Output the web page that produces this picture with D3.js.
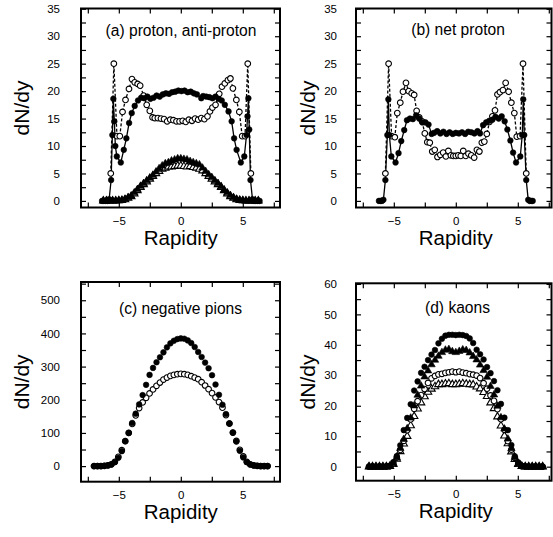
<!DOCTYPE html>
<html><head><meta charset="utf-8">
<script src="https://cdn.jsdelivr.net/npm/d3@7"></script>
<style>
body{margin:0;background:#fff}
svg{display:block}
text{font-family:"Liberation Sans",Arial,Helvetica,sans-serif;fill:#000}
</style>
</head><body>
<svg id="chart" width="553" height="537"></svg>
<script>
// ---------------- DATA ----------------
// (a) proton / anti-proton  : [rapidity, dN/dy]
const aProtonFilled = [[-6.35,0],[-6.2,0],[-6.05,0],[-5.9,0],[-5.78,0.3],[-5.62,3.8],[-5.52,12],[-5.44,18.6],[-5.36,14.5],[-5.28,10],[-5.16,8.1],[-4.84,7.0],[-4.6,9.3],[-4.39,11.4],[-4.17,14.2],[-3.96,16.0],[-3.72,17.3],[-3.45,18.3],[-3.2,18.8],[-2.95,18.7],[-2.7,19.0],[-2.45,18.6],[-2.2,18.8],[-1.95,19.2],[-1.7,19.0],[-1.45,19.4],[-1.2,19.6],[-0.95,19.5],[-0.7,19.8],[-0.45,19.9],[-0.2,20.1],[0.05,20.0],[0.3,20.1],[0.55,19.8],[0.8,19.9],[1.05,19.6],[1.3,19.4],[1.65,18.7],[1.8,19.1],[2.05,19.0],[2.3,18.9],[2.55,18.7],[2.8,19.0],[3.05,18.6],[3.3,18.3],[3.55,17.5],[3.85,16.3],[4.1,14.5],[4.3,11.4],[4.5,9.3],[4.84,7.0],[5.12,8.1],[5.3,12],[5.38,15.4],[5.45,18.7],[5.52,13],[5.62,3.8],[5.78,0.3],[5.9,0],[6.05,0],[6.2,0],[6.35,0]];
const aProtonOpen = [[-5.65,5],[-5.4,25],[-5.15,11.8],[-4.92,11.8],[-4.7,16.2],[-4.46,18.4],[-4.18,20.4],[-3.94,22.2],[-3.72,21.6],[-3.48,21.3],[-3.28,21.0],[-3.0,19.2],[-2.75,17.5],[-2.5,16.4],[-2.28,15.2],[-2.1,15.1],[-1.85,15.1],[-1.6,15.0],[-1.35,14.9],[-1.1,14.5],[-0.85,14.8],[-0.6,14.7],[-0.35,14.5],[-0.1,14.5],[0.15,14.6],[0.4,14.4],[0.65,14.8],[0.9,14.6],[1.15,15.0],[1.4,14.8],[1.65,15.1],[1.9,14.9],[2.15,15.4],[2.35,16.3],[2.55,17.0],[2.8,17.5],[3.1,19.5],[3.32,20.8],[3.55,21.4],[3.8,22.0],[4.0,22.3],[4.2,20.5],[4.48,18.4],[4.72,16.2],[4.95,11.8],[5.18,11.8],[5.4,25],[5.65,5]];
const aTriX = [-6.25,-6.0,-5.75,-5.5,-5.25,-5.0,-4.75,-4.5,-4.25,-4.0,-3.75,-3.5,-3.25,-3.0,-2.75,-2.5,-2.25,-2.0,-1.75,-1.5,-1.25,-1.0,-0.75,-0.5,-0.25,0,0.25,0.5,0.75,1.0,1.25,1.5,1.75,2.0,2.25,2.5,2.75,3.0,3.25,3.5,3.75,4.0,4.25,4.5,4.75,5.0,5.25,5.5,5.75,6.0,6.25];
const aAntiFilled = [0,0,0,0,0,0.05,0.1,0.3,0.6,0.9,1.5,2.1,2.7,3.2,3.7,4.2,4.7,5.3,5.9,6.4,6.8,7.0,7.3,7.5,7.7,7.7,7.6,7.5,7.2,7.0,6.8,6.6,6.0,5.4,4.8,4.3,3.7,3.2,2.6,2.0,1.5,1.0,0.6,0.3,0.15,0.05,0,0,0,0,0];
const aAntiOpen = [0,0,0,0,0,0.05,0.1,0.25,0.5,0.8,1.3,1.9,2.5,3.0,3.5,4.0,4.5,5.0,5.4,5.8,6.0,6.2,6.2,6.3,6.4,6.4,6.3,6.2,6.3,6.1,6.0,5.8,5.5,5.0,4.5,4.0,3.5,3.0,2.5,1.9,1.3,0.8,0.5,0.25,0.1,0.05,0,0,0,0,0];

// (b) net proton : [rapidity, dN/dy]
const bNetFilled = [[-6.2,0],[-6.08,0],[-5.96,0],[-5.84,0.2],[-5.68,3.8],[-5.52,12],[-5.44,18.5],[-5.36,12],[-5.2,8.1],[-4.86,7.0],[-4.62,8.7],[-4.4,10.9],[-4.16,12.9],[-3.94,14.7],[-3.7,15.0],[-3.46,14.9],[-3.2,15.6],[-2.95,15.0],[-2.7,14.3],[-2.45,14.3],[-2.2,13.9],[-1.95,12.2],[-1.75,12.4],[-1.5,12.7],[-1.25,12.3],[-1.0,12.6],[-0.75,12.2],[-0.5,12.5],[-0.25,12.2],[0,12.4],[0.25,12.3],[0.5,12.5],[0.75,12.2],[1.0,12.6],[1.25,12.5],[1.5,12.3],[1.75,12.7],[1.95,12.3],[2.2,13.8],[2.45,14.3],[2.7,14.6],[2.95,14.8],[3.2,15.3],[3.46,15.0],[3.7,15.4],[3.94,14.5],[4.16,13.0],[4.4,11.0],[4.62,8.8],[4.86,7.0],[5.2,8.1],[5.36,12],[5.44,18.5],[5.52,12],[5.68,3.8],[5.84,0.2],[5.96,0],[6.08,0],[6.2,0]];
const bNetOpen = [[-5.68,5],[-5.42,25],[-5.18,11.8],[-4.92,11.6],[-4.72,16],[-4.48,17.9],[-4.26,19.9],[-4.02,21.5],[-3.8,20],[-3.56,19.6],[-3.36,19.3],[-3.16,16.4],[-2.95,15.2],[-2.72,14.5],[-2.5,12.3],[-2.3,10.7],[-2.1,10.6],[-1.9,9.0],[-1.7,9.3],[-1.48,8.0],[-1.25,8.4],[-1.02,8.8],[-0.8,8.1],[-0.6,9.1],[-0.4,8.3],[-0.2,8.2],[0,8.2],[0.2,8.3],[0.4,8.2],[0.6,9.1],[0.8,8.2],[1.02,8.6],[1.25,8.3],[1.48,7.9],[1.7,9.3],[1.9,9.0],[2.1,10.6],[2.3,10.8],[2.5,12.2],[2.72,14.4],[2.95,15.4],[3.16,16.5],[3.36,19.4],[3.56,19.8],[3.8,20.2],[4.02,21.5],[4.26,19.9],[4.48,17.9],[4.72,16],[4.92,11.7],[5.18,11.8],[5.42,25],[5.68,5]];

// (c) negative pions and (d) kaons share a rapidity grid
const cdX = [-7.0,-6.72,-6.44,-6.16,-5.88,-5.6,-5.32,-5.04,-4.76,-4.48,-4.2,-3.92,-3.64,-3.36,-3.08,-2.8,-2.52,-2.24,-1.96,-1.68,-1.4,-1.12,-0.84,-0.56,-0.28,0,0.28,0.56,0.84,1.12,1.4,1.68,1.96,2.24,2.52,2.8,3.08,3.36,3.64,3.92,4.2,4.48,4.76,5.04,5.32,5.6,5.88,6.16,6.44,6.72,7.0];
const cPionFilled = [0,0,0,1,2,5,12,25,45,75,100,130,158,186,214,245,275,296,313,328,343,358,370,378,383,385,384,379,371,359,344,329,312,295,274,246,215,185,157,129,101,74,46,26,12,5,2,1,0,0,0];
const cPionOpen = [0,0,0,1,2,5,13,28,48,75,100,127,153,175,192,206,219,231,242,252,261,267,272,275,277,278,277,275,271,267,262,253,243,232,220,207,193,176,154,128,101,76,49,29,13,5,2,1,0,0,0];
const dKaonFilledCirc = [0,0,0,0,0,0.1,0.3,1.5,3.5,7,12,16,20.5,25,28,30.8,32.8,35,36.8,38.3,40.5,42,43,43.3,43.3,43.2,43.3,43.2,42.9,42.1,40.6,38.4,36.9,35.2,32.7,30.7,28.1,25.1,20.6,16.1,12,7.1,3.4,1.4,0.3,0.1,0,0,0,0,0];
const dKaonFilledTri = [0,0,0,0,0,0,0.2,1,3,6,9,12.5,16,20,23.5,26.5,29.5,31.5,33.5,35,36.3,37.5,38.3,38.5,37.8,37.5,37.9,38.4,38.2,37.4,36.2,35.1,33.4,31.6,29.4,26.4,23.6,19.9,16.1,12.4,9.1,5.9,3.1,1,0.2,0,0,0,0,0,0];
const dKaonOpenCirc = [0,0,0,0,0,0,0.2,1,3,5.5,8.5,12,15.5,19,21.5,23.5,25.5,27.5,29,29.8,30.3,30.5,30.8,31,31.2,31,31.2,30.9,30.7,30.4,30.2,29.9,29.1,27.4,25.6,23.4,21.6,18.9,15.6,12.1,8.4,5.6,2.9,1,0.2,0,0,0,0,0,0];
const dKaonOpenTri = [0,0,0,0,0,0,0.1,0.8,2.5,5,7.5,10,13.5,16.5,19,21,23,24.5,25.5,26.3,27,27,27.2,27.3,27,27,27.1,27.3,27.1,27,26.9,26.2,25.6,24.4,23.1,21,19.1,16.4,13.4,10.1,7.6,4.9,2.4,0.8,0.1,0,0,0,0,0,0];

// tick values / labels
const xTickVals = [-7.5,-5,-2.5,0,2.5,5,7.5];
const xTickLabels = [-5,0,5];
const abTickVals = [0,2.5,5,7.5,10,12.5,15,17.5,20,22.5,25,27.5,30,32.5,35];
const abTickLabels = [0,5,10,15,20,25,30,35];
const cTickVals = [0,50,100,150,200,250,300,350,400,450,500,550];
const cTickLabels = [0,100,200,300,400,500];
const dTickVals = [0,5,10,15,20,25,30,35,40,45,50,55,60];
const dTickLabels = [0,10,20,30,40,50,60];

const titles = ["(a) proton, anti-proton","(b) net proton","(c) negative pions","(d) kaons"];
const xTitle = "Rapidity";
const yTitle = "dN/dy";

// ---------------- DRAW ----------------
const svg = d3.select("#chart");
const pair = arr => arr.map(d => ({x:d[0], y:d[1]}));
const zipX = (xs, ys) => ys.map((y,i) => ({x:xs[i], y:y}));

function panel(cfg) {
  const g = svg.append("g");
  const x = d3.scaleLinear().domain(cfg.xDomain).range([cfg.x0, cfg.x1]);
  const y = d3.scaleLinear().domain(cfg.yDomain).range([cfg.y1, cfg.y0]);
  const fw = cfg.fx1 || cfg.x1;

  const tickStyle = s => { s.select(".domain").remove(); s.selectAll(".tick line").attr("stroke","#000").attr("stroke-width",1.2); s.selectAll("text").remove(); };
  g.append("g").attr("transform",`translate(0,${cfg.y1})`).call(d3.axisBottom(x).tickValues(xTickVals).tickSize(-5)).call(tickStyle);
  g.append("g").attr("transform",`translate(0,${cfg.y0})`).call(d3.axisTop(x).tickValues(xTickVals).tickSize(-5)).call(tickStyle);
  g.append("g").attr("transform",`translate(${cfg.x0},0)`).call(d3.axisLeft(y).tickValues(cfg.yTicks).tickSize(-5)).call(tickStyle);
  g.append("g").attr("transform",`translate(${fw},0)`).call(d3.axisRight(y).tickValues(cfg.yTicks).tickSize(-5)).call(tickStyle);

  const lblStyle = s => { s.select(".domain").remove(); s.selectAll(".tick line").remove(); s.selectAll("text").attr("font-size",11.5).attr("font-family",'"Liberation Sans",Arial,sans-serif').attr("fill","#000"); };
  g.append("g").attr("transform",`translate(0,${cfg.y1})`)
    .call(d3.axisBottom(x).tickValues(xTickLabels).tickSize(0).tickPadding(9.5).tickFormat(d3.format("d"))).call(lblStyle);
  g.append("g").attr("transform",`translate(${cfg.x0},0)`)
    .call(d3.axisLeft(y).tickValues(cfg.yLabels).tickSize(0).tickPadding(cfg.yPad).tickFormat(d3.format("d"))).call(lblStyle);

  g.append("rect").attr("x",cfg.x0).attr("y",cfg.y0).attr("width",fw-cfg.x0).attr("height",cfg.y1-cfg.y0)
    .attr("fill","none").attr("stroke","#000").attr("stroke-width",2);

  const line = d3.line().x(d=>x(d.x)).y(d=>y(d.y));
  cfg.series.forEach(s => {
    if (s.line) {
      g.append("path").datum(s.data).attr("d",line).attr("fill","none").attr("stroke","#000")
        .attr("stroke-width",1.3).attr("stroke-dasharray", s.line==="dashed" ? "3,2" : null);
    }
  });
  cfg.series.forEach(s => {
    const sym = d3.symbol().type(s.shape==="tri" ? d3.symbolTriangle : d3.symbolCircle).size(s.shape==="tri" ? 24 : 25);
    g.append("g").selectAll("path").data(s.data).join("path")
      .attr("transform", d=>`translate(${x(d.x)},${y(d.y)})`)
      .attr("d", sym)
      .attr("fill", s.filled ? "#000" : "#fff")
      .attr("stroke","#000").attr("stroke-width", s.filled ? 0.6 : 1.1);
  });

  g.append("text").attr("x",cfg.tx).attr("y",cfg.ty).attr("text-anchor","middle").attr("font-size",15.6).text(cfg.title);
  g.append("text").attr("x",x(0)).attr("y",cfg.y1+37.5).attr("text-anchor","middle").attr("font-size",20.5).text(xTitle);
  g.append("text").attr("transform",`translate(${cfg.lx},${(cfg.y0+cfg.y1)/2}) rotate(-90)`).attr("text-anchor","middle").attr("font-size",21).text(yTitle);
}

panel({x0:81, x1:280, xDomain:[-8.05,8.0], y0:8.5, y1:207.5, yDomain:[-1.2,35.05],
  yTicks:abTickVals, yLabels:abTickLabels, yPad:21, title:titles[0], tx:181, ty:35.5, lx:29,
  series:[
    {data:zipX(aTriX,aAntiOpen), shape:"tri", filled:false},
    {data:zipX(aTriX,aAntiFilled), shape:"tri", filled:true},
    {data:pair(aProtonOpen), shape:"circle", filled:false, line:"dashed"},
    {data:pair(aProtonFilled), shape:"circle", filled:true, line:"solid"}
  ]});
panel({x0:356, x1:555, fx1:551.5, xDomain:[-8.05,8.0], y0:8.5, y1:207.5, yDomain:[-1.2,35.05],
  yTicks:abTickVals, yLabels:abTickLabels, yPad:19, title:titles[1], tx:458, ty:35, lx:315,
  series:[
    {data:pair(bNetOpen), shape:"circle", filled:false, line:"dashed"},
    {data:pair(bNetFilled), shape:"circle", filled:true, line:"solid"}
  ]});
panel({x0:81, x1:280, xDomain:[-8.05,8.0], y0:282, y1:481.7, yDomain:[-47,555],
  yTicks:cTickVals, yLabels:cTickLabels, yPad:21, title:titles[2], tx:180.5, ty:313.5, lx:29,
  series:[
    {data:zipX(cdX,cPionOpen), shape:"circle", filled:false},
    {data:zipX(cdX,cPionFilled), shape:"circle", filled:true}
  ]});
panel({x0:356, x1:555, fx1:551.5, xDomain:[-8.05,8.0], y0:283.3, y1:480.7, yDomain:[-4.6,60.2],
  yTicks:dTickVals, yLabels:dTickLabels, yPad:19, title:titles[3], tx:457.5, ty:313, lx:315,
  series:[
    {data:zipX(cdX,dKaonOpenTri), shape:"tri", filled:false},
    {data:zipX(cdX,dKaonOpenCirc), shape:"circle", filled:false},
    {data:zipX(cdX,dKaonFilledTri), shape:"tri", filled:true},
    {data:zipX(cdX,dKaonFilledCirc), shape:"circle", filled:true}
  ]});
</script>
</body></html>
